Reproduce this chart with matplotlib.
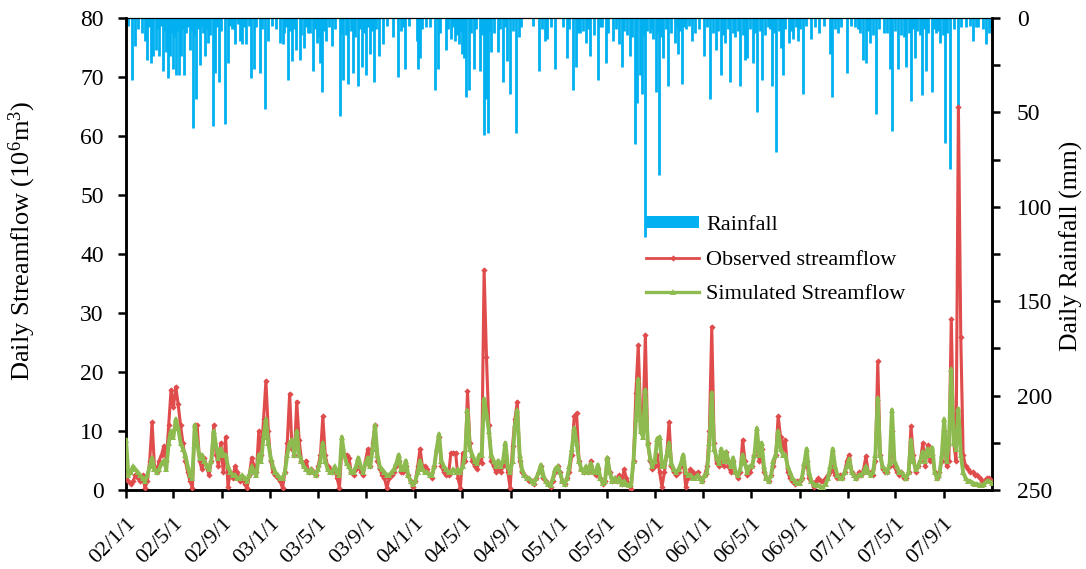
import numpy as np
import pandas as pd
import matplotlib
matplotlib.use("Agg")
import matplotlib.pyplot as plt
from matplotlib.lines import Line2D
from matplotlib.patches import Patch

plt.rcParams['font.family'] = ['Liberation Serif', 'DejaVu Serif']
plt.rcParams['mathtext.fontset'] = 'custom'
plt.rcParams['mathtext.rm'] = 'Liberation Serif'
plt.rcParams['mathtext.it'] = 'Liberation Serif:italic'

# ---------------- data ----------------
start_date = "2002-01-01"
end_date = "2008-01-01"
flow_step_days = 6  # streamflow sampled every 6 days from start_date

observed = [
    2.5, 1.5, 1, 1.5, 2.5, 2, 1.5, 2.5, 0.3, 1.5,
    5, 11.5, 4, 3, 5, 6, 7.5, 5, 11, 17,
    14, 17.5, 14.5, 11, 8, 5, 3, 1.5, 0.3, 11,
    11, 5, 3.5, 5.5, 4, 2.5, 5, 11, 6, 4,
    8, 3, 9, 0.5, 3, 2, 4, 3, 1.5, 2,
    1, 0.3, 2.5, 5.5, 4, 3, 10, 6, 12, 18.5,
    10, 5, 3, 2.5, 2, 1.5, 0.3, 3, 8, 16.3,
    7, 6, 15, 8.5, 5, 4, 5, 3, 3.5, 3,
    2.5, 4, 6, 12.5, 6, 4, 3.5, 3, 3.5, 2,
    0.3, 7, 6, 6, 5.5, 3, 2.5, 3.5, 4.5, 3,
    2.5, 5, 7, 4, 8, 11, 5, 3.5, 2.5, 2,
    0.3, 2, 2.5, 3, 4, 5, 3, 3, 4, 2.5,
    1.5, 0.5, 1.5, 4, 7, 4, 4, 3.5, 2.5, 2,
    4, 7, 9, 4, 3, 2.5, 2.5, 6.3, 6.3, 6.3,
    2, 0.3, 6.3, 5, 16.7, 8, 5, 4, 3.5, 5,
    4.5, 37.3, 22.5, 11, 5, 4, 3, 3.5, 3, 4,
    6, 3, 0.3, 7.5, 12, 15, 5, 3, 2.5, 2,
    1.5, 1.5, 1, 2, 3, 4, 2, 1.5, 1, 0.5,
    1.5, 3, 4, 3, 1.5, 1, 2, 3, 6, 12.5,
    13, 5, 3.5, 3, 3.5, 3, 5, 3, 2.5, 3.5,
    2, 1, 1.5, 5.5, 3, 1.5, 2, 1.5, 2.5, 1,
    3.5, 2, 1, 0.2, 5, 16.5, 24.5, 13, 11, 26.3,
    8, 5, 3.5, 4, 6, 3, 0.5, 3, 6, 11.5,
    4, 3, 2.5, 3, 4, 5, 0.5, 2, 3.5, 3,
    2.5, 3, 2, 1.5, 2.5, 4, 10, 27.7, 8, 4.5,
    4, 5, 4, 6.5, 4, 3, 5, 3, 2, 3,
    8.5, 5, 2.5, 3, 4, 6, 8, 5, 7, 3,
    2, 1.5, 2.5, 4, 6, 12.5, 9, 7, 8.5, 3,
    2, 1.5, 1, 1.5, 1.5, 2, 4, 5, 2, 1.5,
    0.5, 1.5, 2, 1.5, 1.5, 2, 2.5, 3, 4, 2.5,
    2, 2.5, 2, 3, 5, 6, 3, 2.5, 2, 3,
    2.5, 3.5, 5.7, 3, 3, 2.5, 5, 21.8, 6, 3.5,
    3, 3, 4, 10, 4, 3, 2.5, 3, 2, 2,
    3, 10.8, 6, 3, 4, 5, 8, 4, 7.6, 5,
    6, 3, 2, 3, 5, 10, 4, 5, 29, 8,
    5, 65, 26, 6, 4, 3.5, 3, 3, 2.5, 2.5,
    2, 1.5, 1.5, 2, 2, 1.5,
]

simulated = [
    8.5, 2.5, 3, 4, 3.5, 3, 2.5, 2, 1.5, 2.5,
    4, 5.5, 3.5, 3, 3.5, 4.5, 5, 3.5, 8, 10,
    9, 12, 10.5, 8, 7, 6, 4, 2.5, 2, 11,
    8, 5.5, 6, 5, 4, 3.5, 5, 10, 7.5, 5.5,
    7, 6, 6, 4, 3, 2.5, 2.5, 2, 2, 2.5,
    2, 1.5, 2.5, 4, 3, 2.5, 6, 5, 9, 12,
    8, 5.5, 4, 3, 2.5, 2, 2, 3, 6, 8,
    8.5, 6, 10, 6, 5, 4, 3.5, 3, 3.5, 3,
    2.5, 3.5, 5, 8, 5, 3.5, 3, 3, 4, 3,
    2.5, 9, 6, 4.5, 4, 3, 3, 4, 5.5, 4,
    3, 4.5, 5.5, 4, 7, 11, 6, 4, 3.5, 3,
    2.5, 2.5, 3, 3.5, 4.5, 6, 3.5, 3.5, 5, 2.5,
    1.5, 1, 1.5, 3, 5, 3.5, 3, 3, 2.5, 2.5,
    4, 7, 9.5, 5, 4, 3.5, 3, 3, 3.5, 3,
    3.5, 3, 4, 6, 13.5, 7, 6, 5, 4.5, 6,
    6, 15.5, 13, 10, 6, 5, 4, 5, 4, 5,
    8, 4, 3, 5, 11, 13.5, 6, 3.5, 2.5, 2,
    2, 1.5, 1.2, 2, 3, 4.3, 2.5, 1.5, 1, 0.8,
    2, 3.5, 4, 3, 1.5, 1, 2, 4, 7, 10.5,
    8, 5, 3.5, 3, 4, 3, 4.5, 3, 3, 4.3,
    2, 1.2, 1.5, 5.5, 3, 1.5, 2, 1.5, 2, 1,
    1.5, 1, 0.8, 1, 5, 12, 18.8, 10, 9, 17,
    8, 5.5, 4, 5, 8.7, 9, 4, 4, 6, 8,
    4.5, 3.5, 3, 3.5, 4.5, 6, 3, 2.5, 2.5, 2,
    2, 2.5, 2, 1.5, 2.5, 3, 8, 16.5, 7, 5.5,
    4.5, 7, 5, 6.5, 5, 4, 5.5, 3, 2.5, 3.5,
    6, 4.5, 3, 4, 4, 6, 10.5, 6, 8, 4,
    2, 1.5, 2.5, 5, 6, 10, 7, 6, 6, 4,
    3, 2, 1.5, 1.2, 1.2, 2, 4.5, 7, 3, 1.5,
    1, 0.8, 0.8, 0.5, 0.5, 1, 2, 4, 7, 4,
    2.5, 2, 2, 3, 4, 5.3, 3, 2.5, 2, 2.5,
    2.5, 3, 4, 3, 2.5, 3, 6, 15.6, 6, 4,
    3.5, 3, 4.5, 13.6, 5, 4, 3, 3, 2.5, 2,
    3, 8.5, 5, 3.5, 4, 5, 6.5, 5, 7, 6,
    7.2, 3, 2, 2.5, 6, 12, 5, 8, 20.5, 8,
    7, 13.8, 6, 3, 2, 1.5, 1.5, 1.2, 1, 1,
    0.8, 0.8, 1, 1.5, 1.5, 1.2,
]

# larger rainfall events: day number counted from start_date, and depth (mm)
rain_day = [
    14, 24, 47, 52, 62, 68, 75, 83, 94, 100, 106, 112, 119, 126, 133, 140, 148,
    161, 169, 178, 186, 199, 207, 219, 224, 235, 250, 258, 267, 277, 288, 294,
    303, 317, 323, 338, 351, 359, 389, 396, 410, 421, 431, 439, 450, 460, 472,
    482, 490, 497, 507, 521, 541, 549, 562, 574, 587, 596, 606, 617, 627, 640,
    649, 675, 687, 697, 705, 735, 739, 745, 760, 781, 789, 809, 823, 832, 842,
    849, 854, 861, 868, 880, 895, 905, 910, 916, 924, 941, 954, 964, 972, 986,
    994, 1045, 1059, 1066, 1085, 1116, 1131, 1138, 1148, 1165, 1175, 1194,
    1205, 1214, 1231, 1247, 1255, 1274, 1287, 1294, 1300, 1306, 1314, 1325,
    1333, 1340, 1348, 1359, 1371, 1388, 1397, 1407, 1418, 1433, 1439, 1462,
    1478, 1492, 1506, 1515, 1529, 1542, 1554, 1565, 1570, 1586, 1596, 1610,
    1624, 1635, 1645, 1656, 1662, 1677, 1688, 1700, 1713, 1732, 1753, 1780,
    1786, 1801, 1824, 1844, 1865, 1871, 1883, 1897, 1917, 1932, 1937, 1953,
    1968, 1974, 1987, 1995, 2013, 2025, 2038, 2050, 2060, 2071, 2086, 2105,
    2126, 2143, 2156, 2177, 2183,
]
rain_mm = [
    33, 15, 12, 22, 24, 20, 17, 20, 28, 18, 32, 20, 27, 30, 30, 20, 30,
    17, 58, 43, 25, 20, 13, 57, 29, 34, 56, 24, 6, 14, 12, 14,
    14, 32, 27, 29, 48, 12, 13, 14, 33, 23, 17, 22, 16, 8, 28,
    13, 24, 39, 12, 15, 52, 33, 35, 29, 36, 26, 30, 19, 34, 20,
    14, 10, 31, 7, 27, 12, 27, 21, 5, 38, 27, 17, 11, 12, 14,
    19, 21, 42, 38, 27, 28, 62, 43, 61, 18, 18, 34, 23, 40, 61,
    10, 28, 12, 11, 27, 21, 38, 26, 8, 13, 20, 33,
    5, 24, 12, 14, 26, 20, 67, 45, 30, 40, 116, 8,
    11, 39, 83, 21, 36, 13, 19, 35, 6, 12, 8, 20,
    43, 17, 30, 13, 34, 10, 36, 22, 21, 24, 50, 33,
    5, 36, 71, 16, 30, 13, 11, 12, 40, 11, 8, 19,
    42, 8, 29, 5, 22, 24, 13, 51, 8, 27, 60, 27,
    10, 26, 44, 21, 41, 28, 39, 8, 13, 66, 80, 50,
    5, 12, 5, 14, 8,
]

# small rainfall days filling the band just below the top axis
small_rain_day = [
    5, 30, 40, 57, 80, 88, 97, 103, 109, 115, 122, 129, 136, 144, 152, 157, 165,
    173, 182, 191, 195, 203, 212, 229, 241, 262, 272, 283, 298, 310, 330, 345,
    370, 380, 400, 404, 415, 426, 444, 455, 466, 477, 486, 502, 513, 530, 545,
    556, 568, 580, 592, 601, 612, 622, 633, 660, 700, 715,
    750, 770, 795, 815, 828, 837, 845, 858, 873, 886, 900, 920, 930, 946, 959,
    978, 1000, 1030, 1052, 1075,
    1105, 1122, 1143, 1155, 1170, 1185, 1199, 1220, 1240, 1260, 1268, 1280,
    1290, 1303, 1310, 1318, 1330, 1344, 1353, 1365, 1378, 1392, 1402, 1412,
    1425, 1450,
    1470, 1485, 1498, 1511, 1522, 1535, 1548, 1560, 1578, 1591, 1603, 1616,
    1629, 1640, 1651, 1668, 1682, 1694, 1706, 1720, 1742, 1765, 1793, 1810,
    1835, 1852, 1858, 1877, 1890, 1905, 1925, 1945, 1960, 1980, 1992, 2002,
    2008, 2018, 2030, 2044, 2055, 2066, 2078, 2095, 2112, 2135, 2150, 2168, 2188,
]
small_rain_mm = [
    4, 6, 8, 5, 6, 4, 7, 9, 6, 8, 10, 7, 9, 6, 8, 5, 7,
    9, 6, 5, 8, 6, 9, 5, 7, 4, 6, 3, 5, 4, 5, 6,
    4, 6, 8, 5, 7, 6, 9, 5, 8, 6, 10, 7, 5, 6, 8,
    9, 7, 10, 6, 8, 5, 7, 6, 4, 5, 4,
    6, 5, 8, 6, 5, 9, 7, 10, 8, 6, 9, 7, 8, 6, 5,
    7, 5, 4, 6, 5,
    5, 6, 8, 7, 6, 9, 5, 8, 6, 7, 9, 10,
    8, 6, 9, 7, 6, 8, 10, 6, 8, 5, 7, 5,
    4, 6,
    5, 8, 7, 9, 6, 8, 7, 9, 6, 8, 7, 9,
    6, 8, 7, 6, 7, 5, 6, 4, 5, 4, 6, 5,
    4, 6, 8, 7, 9, 6, 8, 7, 9, 8, 6, 7,
    9, 6, 8, 6, 7, 9, 8, 6, 5, 4, 5, 6, 5,
]

tick_dates = pd.date_range("2002-01-01", "2007-09-01", freq="4MS")

# ---------------- plot ----------------
c_rain = "#00B0F0"
c_obs = "#E04B4B"
c_sim = "#8DBB4F"

W, H = 1086, 569
fig = plt.figure(figsize=(W / 100, H / 100), dpi=100)
ax = fig.add_axes([126 / W, 1 - 490 / H, 866 / W, 472 / H])
ax2 = ax.twinx()

t0 = pd.Timestamp(start_date)
flow_dates = t0 + pd.to_timedelta(np.arange(len(observed)) * flow_step_days, unit="D")
all_rain_day = np.array(rain_day + small_rain_day)
all_rain_mm = np.array(rain_mm + small_rain_mm)
rain_dates = t0 + pd.to_timedelta(all_rain_day, unit="D")

ax2.vlines(rain_dates, 0, all_rain_mm, color=c_rain, linewidth=2.0)
ax2.set_ylim(250, 0)
ax2.set_yticks(np.arange(0, 251, 50))
ax2.set_yticks(np.arange(25, 250, 50), minor=True)

ax.plot(flow_dates, observed, color=c_obs, lw=2.2, marker="D", ms=3.2,
        markeredgewidth=0, zorder=3)
ax.plot(flow_dates, simulated, color=c_sim, lw=2.8, marker="^", ms=4.6,
        markeredgewidth=0, zorder=4)

ax.set_zorder(ax2.get_zorder() + 1)
ax.patch.set_visible(False)

ax.set_xlim(pd.Timestamp(start_date), pd.Timestamp(end_date))
ax.set_ylim(0, 80)
ax.set_yticks(np.arange(0, 81, 10))
ax.set_xticks(tick_dates)
ax.set_xticklabels([f"{d.year % 100:02d}/{d.month}/{d.day}" for d in tick_dates],
                   rotation=45, ha="right", rotation_mode="anchor")

for a in (ax, ax2):
    for s in ("left", "right", "bottom"):
        a.spines[s].set_linewidth(1.8)
    a.spines["top"].set_linewidth(0.8)
    a.tick_params(axis="both", which="both", direction="out", length=6,
                  width=1.8, labelsize=17)

ax.tick_params(axis="x", pad=11, labelsize=16)
ax.tick_params(axis="y", pad=10)
ax2.tick_params(axis="y", pad=12)

ax.set_ylabel("Daily Streamflow (10$^{6}$m$^{3}$)", fontsize=19)
ax.yaxis.set_label_coords((38 - 126) / 866, (490 - 241) / 472)
ax2.set_ylabel("Daily Rainfall (mm)", fontsize=18.5, rotation=90)
ax2.yaxis.set_label_coords((1060 - 126) / 866, (490 - 246) / 472)

handles = [
    Patch(facecolor=c_rain, edgecolor="none"),
    Line2D([0], [0], color=c_obs, lw=2.0, marker="D", ms=3.2, markeredgewidth=0),
    Line2D([0], [0], color=c_sim, lw=2.4, marker="^", ms=4.5, markeredgewidth=0),
]
labels = ["Rainfall", "Observed streamflow", "Simulated Streamflow"]
leg = ax.legend(handles, labels, loc="upper left",
                bbox_to_anchor=(646 / W, 1 - 216 / H),
                bbox_transform=fig.transFigure, frameon=False,
                fontsize=16, handlelength=2.4, handleheight=0.45,
                labelspacing=0.7, handletextpad=0.3, borderaxespad=0,
                borderpad=0)

fig.savefig("out.png", dpi=100)
